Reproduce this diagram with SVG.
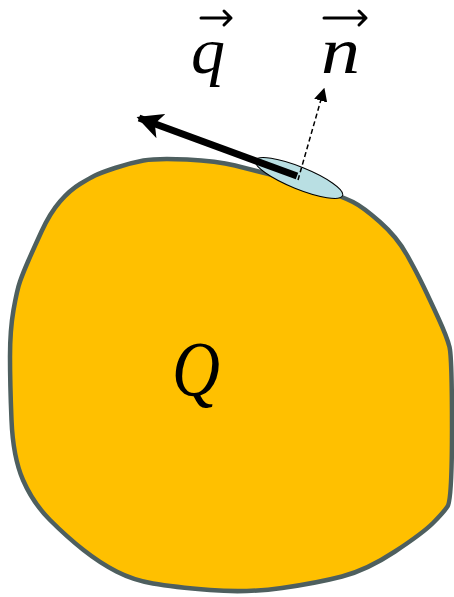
<svg xmlns="http://www.w3.org/2000/svg" width="454" height="597" viewBox="0 0 454 597">
<defs>
<style>
.lbl{font-family:"Liberation Serif","DejaVu Serif",serif;font-style:italic;fill:#000}
.vec{stroke:#000;stroke-width:3;fill:none;stroke-linecap:round;stroke-linejoin:round}
</style>
<marker id="bighead" viewBox="0 0 10 10" refX="9" refY="5" markerWidth="3.7" markerHeight="3.7" orient="auto" markerUnits="strokeWidth">
<path d="M0,0 L10,5 L0,10 L2.5,5 Z" fill="#000"/>
</marker>
<marker id="dhead" viewBox="0 0 10 10" refX="9" refY="5" markerWidth="9" markerHeight="9" orient="auto" markerUnits="strokeWidth">
<path d="M0,0 L10,5 L0,10 Z" fill="#000"/>
</marker>
</defs>
<rect width="454" height="597" fill="#fff"/>
<g id="body">
<path d="M187,159.5 Q217,161 235,165.5 Q253,170 276.5,176 Q300,182 321.5,189.5 Q343,197 353,202 Q363,207 380,222 Q397,237 407,255 Q417,273 423.5,286.5 Q430,300 438.5,318.5 Q447,337 449.5,347 Q452,357 452,428.5 Q452,500 447.5,506.5 Q443,513 433,523 Q423,533 395,551.5 Q367,570 342,576.5 Q317,583 282,588 Q247,593 210,590 Q173,587 153,583.5 Q133,580 116.5,571.5 Q100,563 83.5,550 Q67,537 50,520 Q33,503 23,480 Q13,457 11.5,420 Q10,383 10,356.5 Q10,330 13.5,310 Q17,290 20,281.5 Q23,273 28,261.5 Q33,250 41.5,231.5 Q50,213 60,201.5 Q70,190 80,184 Q90,178 95,175.5 Q100,173 115,168 Q130,163 143.5,160.5 Q157,158 187,159.5 Z" fill="#FFC000" stroke="#4E5F5F" stroke-width="4.5" stroke-linejoin="round"/>
<text class="lbl" x="172" y="395" font-size="78" textLength="48" lengthAdjust="spacingAndGlyphs">Q</text>
</g>
<g id="patch">
<ellipse cx="299" cy="178" rx="47" ry="11" transform="rotate(22 299 178)" fill="#B9DFE3" stroke="#000" stroke-width="1"/>
</g>
<g id="connectors">
<line x1="297" y1="176" x2="139" y2="118" stroke="#000" stroke-width="7" marker-end="url(#bighead)"/>
<line x1="298" y1="180" x2="324" y2="89" stroke="#000" stroke-width="1.5" stroke-dasharray="5,3" marker-end="url(#dhead)"/>
</g>
<g id="label-q">
<text class="lbl" x="191" y="73" font-size="66" textLength="34" lengthAdjust="spacingAndGlyphs">q</text>
<path class="vec" d="M201,18 L231,18 M224,11 L231,18 L224,25"/>
</g>
<g id="label-n">
<text class="lbl" x="321" y="73" font-size="66" textLength="39" lengthAdjust="spacingAndGlyphs">n</text>
<path class="vec" d="M324,18 L366,18 M359,11 L366,18 L359,25"/>
</g>
</svg>
